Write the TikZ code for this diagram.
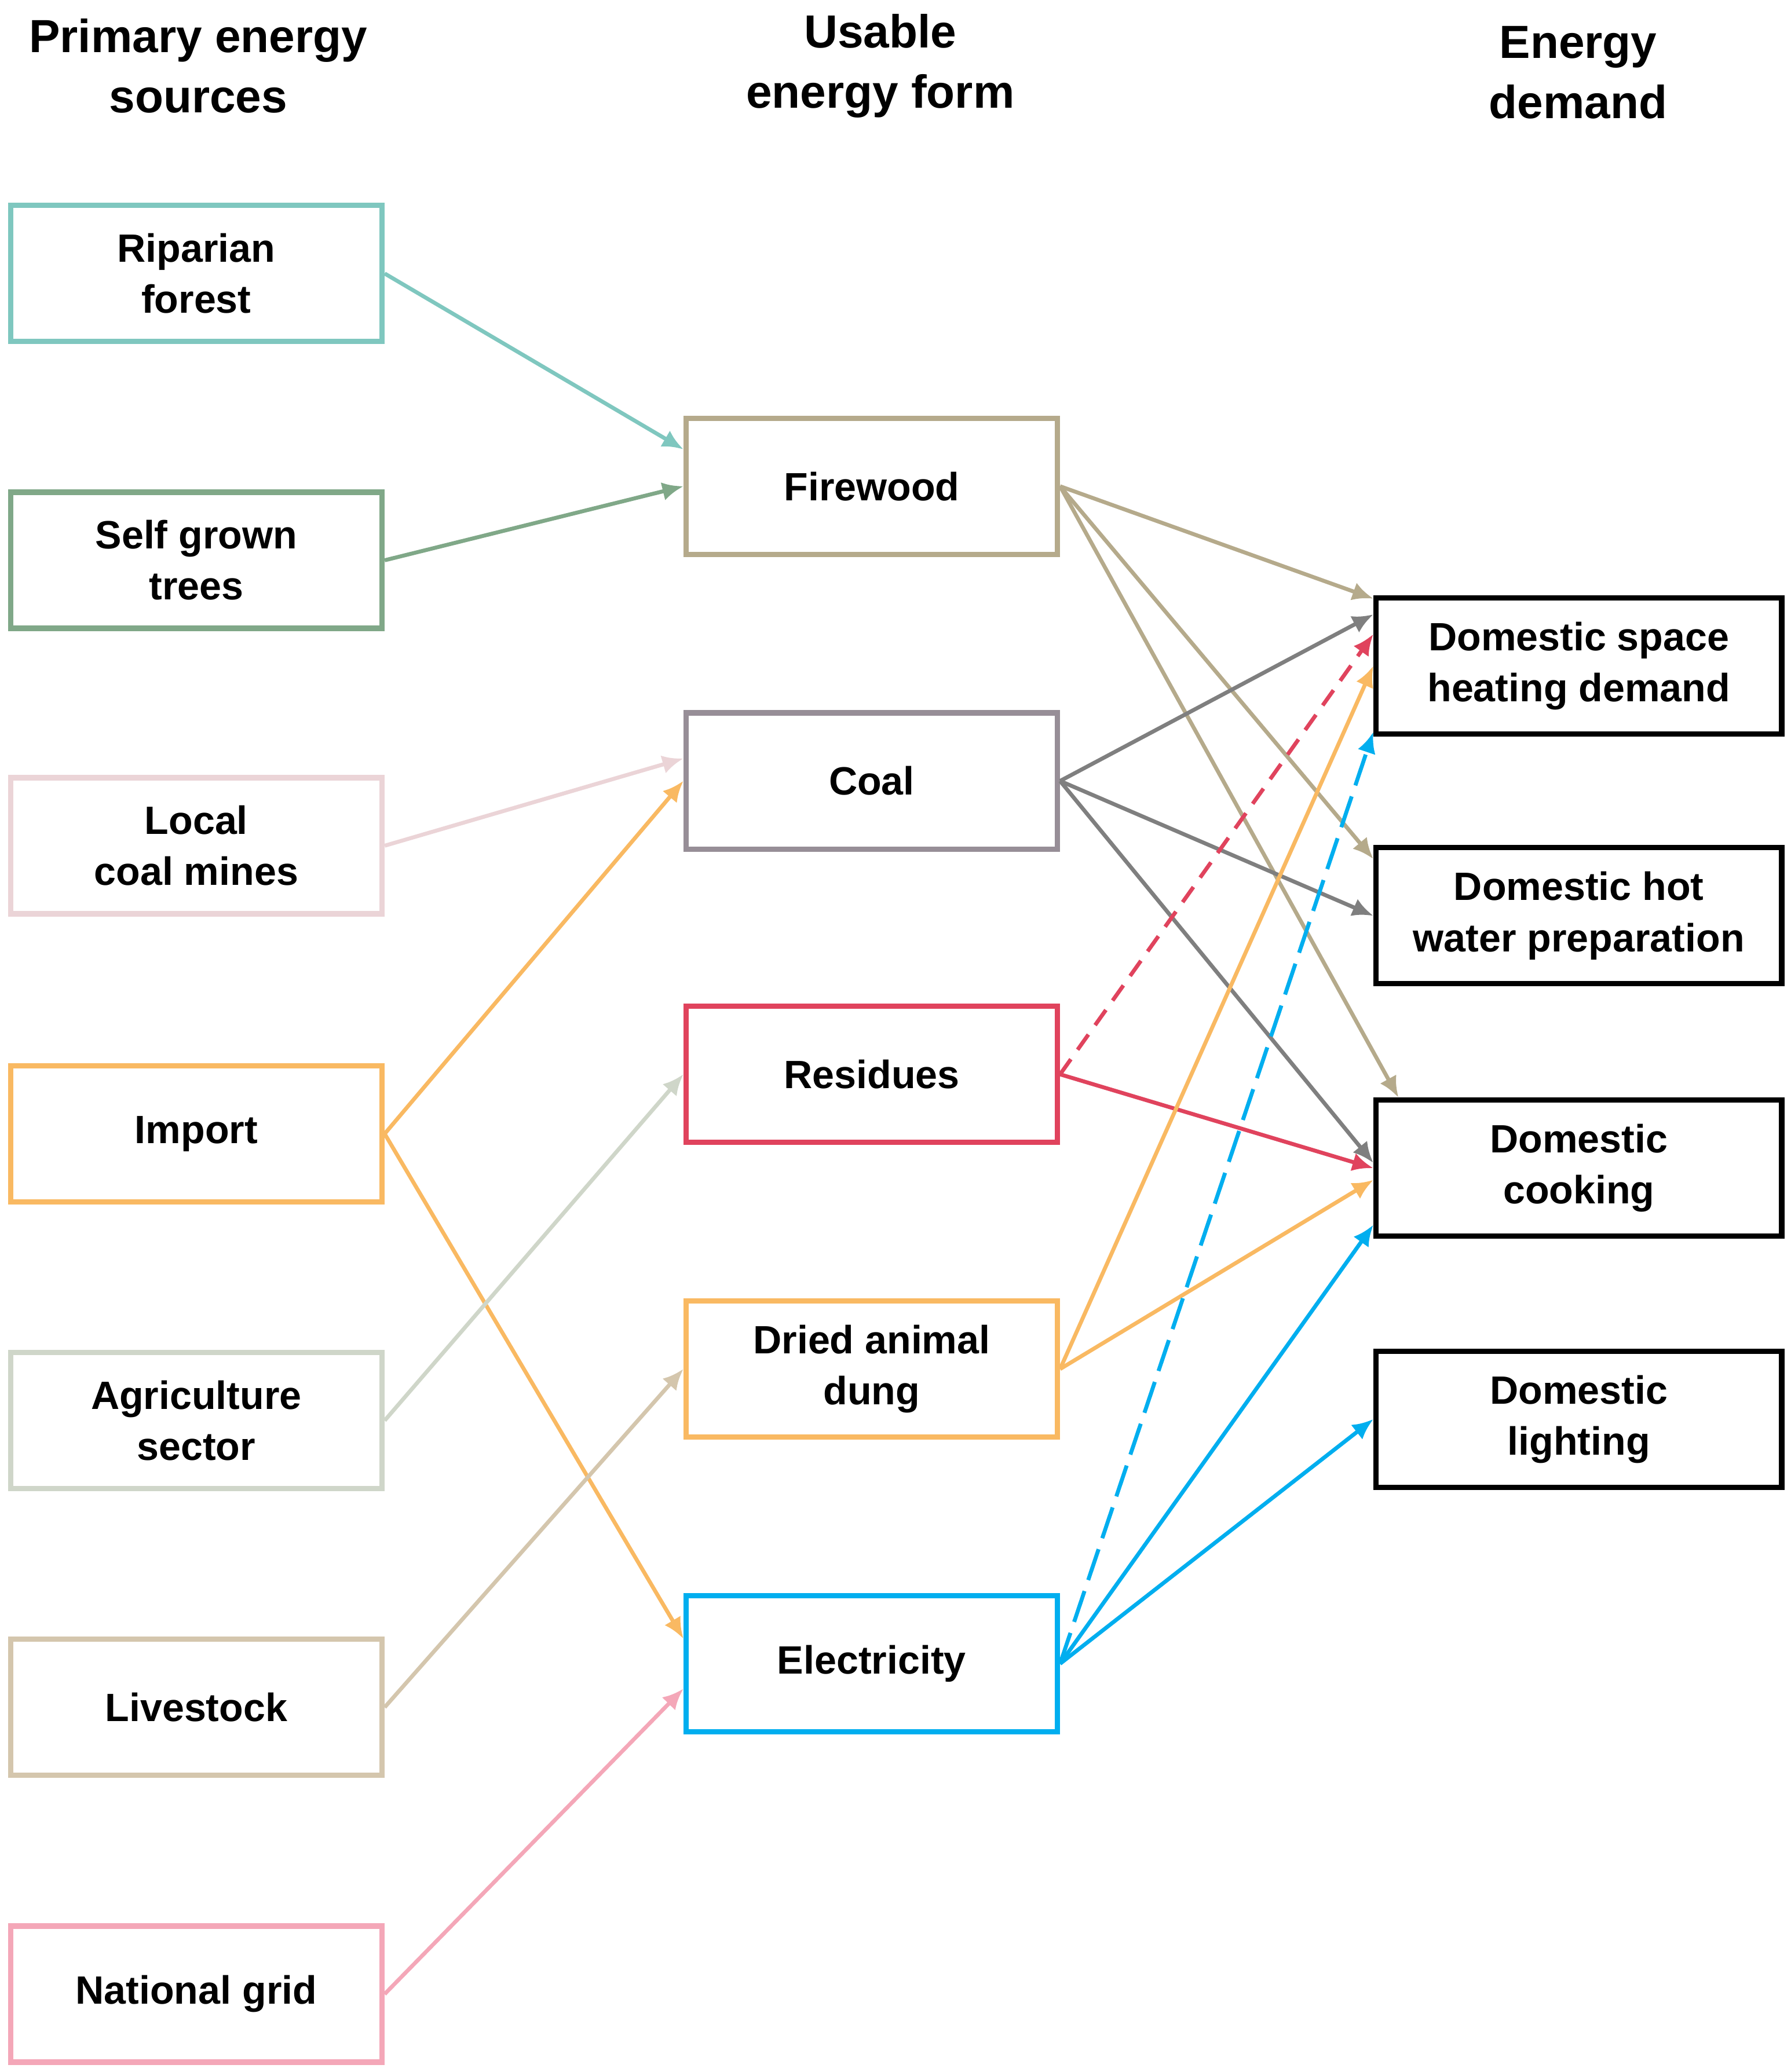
\documentclass[tikz,border=0pt]{standalone}
\usepackage{fontspec}
\setmainfont{Liberation Sans}
\usetikzlibrary{arrows.meta}

\definecolor{riparian}{HTML}{7FC7BF}
\definecolor{selfgrown}{HTML}{80A888}
\definecolor{coalmine}{HTML}{EBD4D7}
\definecolor{import}{HTML}{F9B962}
\definecolor{agri}{HTML}{CFD6C9}
\definecolor{livestock}{HTML}{D4C6AD}
\definecolor{grid}{HTML}{F4A7B8}
\definecolor{firewood}{HTML}{B5AA8B}
\definecolor{coalbox}{HTML}{978E97}
\definecolor{coalline}{HTML}{7F7F7F}
\definecolor{residue}{HTML}{E0435D}
\definecolor{elec}{HTML}{00AEEF}

\tikzset{
  box/.style={draw,line width=2.3pt,minimum width=5.62cm,minimum height=2.06cm,
    align=center,font=\bfseries\fontsize{17}{22}\selectfont},
  demand/.style={box,draw=black,minimum width=6.14cm},
  head/.style={align=center,font=\bfseries\fontsize{20}{26}\selectfont},
  link/.style={line width=1.7pt,-{Latex[length=9pt,width=8pt]}},
}

\begin{document}
\begin{tikzpicture}
\useasboundingbox (0,0) rectangle (27.1,-31.36);
% column headers
\node[head] (h1) at (3.0,-1.0) {Primary energy\\sources};
\node[head] (h2) at (13.32,-1.0) {Usable\\energy form};
\node[head] (h3) at (23.88,-1.1) {Energy\\demand};
% primary sources
\node[box,draw=riparian]  (rip)   at (2.97,-4.14)  {Riparian\\forest};
\node[box,draw=selfgrown] (self)  at (2.97,-8.48)  {Self grown\\trees};
\node[box,draw=coalmine]  (mine)  at (2.97,-12.80) {Local\\coal mines};
\node[box,draw=import]    (imp)   at (2.97,-17.16) {Import};
\node[box,draw=agri]      (agr)   at (2.97,-21.50) {Agriculture\\sector};
\node[box,draw=livestock] (live)  at (2.97,-25.84) {Livestock};
\node[box,draw=grid]      (natg)  at (2.97,-30.18) {National grid};
% usable forms
\node[box,draw=firewood]  (fire)  at (13.19,-7.36)  {Firewood};
\node[box,draw=coalbox]   (coal)  at (13.19,-11.82) {Coal};
\node[box,draw=residue]   (res)   at (13.19,-16.26) {Residues};
\node[box,draw=import]    (dung)  at (13.19,-20.72) {Dried animal\\dung};
\node[box,draw=elec]      (el)    at (13.19,-25.18) {Electricity};
% demands
\node[demand] (heat) at (23.89,-10.08) {Domestic space\\heating demand};
\node[demand] (hot)  at (23.89,-13.86) {Domestic hot\\water preparation};
\node[demand] (cook) at (23.89,-17.68) {Domestic\\cooking};
\node[demand] (lamp) at (23.89,-21.48) {Domestic\\lighting};

% sources to forms
\draw[link,riparian]  (rip.east)  -- ([yshift=0.56cm]fire.west);
\draw[link,selfgrown] (self.east) -- (fire.west);
\draw[link,coalmine]  (mine.east) -- ([yshift=0.34cm]coal.west);
\draw[link,import]    (imp.east)  -- (coal.west);
\draw[link,import]    (imp.east)  -- ([yshift=0.38cm]el.west);
\draw[link,agri]      (agr.east)  -- (res.west);
\draw[link,livestock] (live.east) -- (dung.west);
\draw[link,grid]      (natg.east) -- ([yshift=-0.38cm]el.west);

% forms to demands
\draw[link,firewood] (fire.east) -- ([yshift=1.02cm]heat.west);
\draw[link,firewood] (fire.east) -- ([yshift=0.86cm]hot.west);
\draw[link,firewood] (fire.east) -- ([xshift=0.38cm]cook.north west);
\draw[link,coalline] (coal.east) -- ([yshift=0.78cm]heat.west);
\draw[link,coalline] (coal.east) -- (hot.west);
\draw[link,coalline] (coal.east) -- ([yshift=0.08cm]cook.west);
\draw[link,residue,dash pattern=on 8pt off 5pt] (res.east) -- ([yshift=0.48cm]heat.west);
\draw[link,residue]  (res.east)  -- (cook.west);
\draw[link,import]   (dung.east) -- (heat.west);
\draw[link,import]   (dung.east) -- ([yshift=-0.18cm]cook.west);
\draw[link,elec,dash pattern=on 14pt off 5pt] (el.east) -- ([yshift=-1.0cm]heat.west);
\draw[link,elec]     (el.east)   -- ([yshift=-0.86cm]cook.west);
\draw[link,elec]     (el.east)   -- (lamp.west);
\end{tikzpicture}
\end{document}
